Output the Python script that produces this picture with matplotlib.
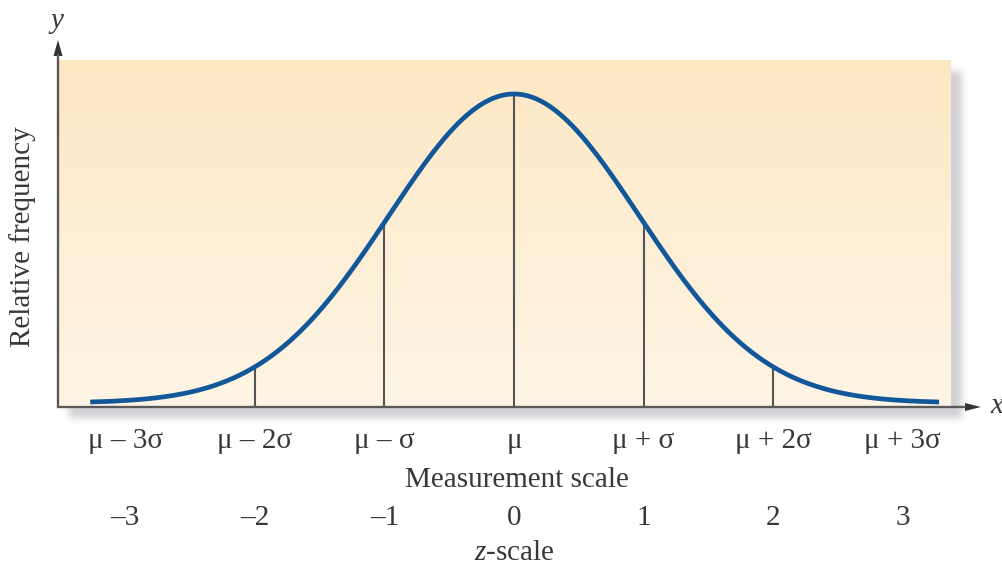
import numpy as np
import matplotlib
matplotlib.use('Agg')
import matplotlib.pyplot as plt
from matplotlib.transforms import blended_transform_factory
from matplotlib.patches import Polygon

# ---------------- data ----------------
z_ticks = [-3, -2, -1, 0, 1, 2, 3]
measurement_labels = ['μ – 3σ', 'μ – 2σ', 'μ – σ', 'μ', 'μ + σ', 'μ + 2σ', 'μ + 3σ']
z_labels = ['–3', '–2', '–1', '0', '1', '2', '3']
guide_z = [-2, -1, 0, 1, 2]
curve_mu = 0.0
curve_sigma = 0.965
curve_range = (-3.27, 3.28)
curve_base = 0.013

# ---------------- figure ----------------
W, H = 1003, 566
plt.rcParams['font.family'] = ['Liberation Serif', 'DejaVu Serif']
plt.rcParams['mathtext.fontset'] = 'custom'
plt.rcParams['mathtext.rm'] = 'Liberation Serif'
plt.rcParams['mathtext.it'] = 'Liberation Serif:italic'
fig = plt.figure(figsize=(W / 100, H / 100), dpi=100)
fig.patch.set_facecolor('white')

TXT = '#383838'
AX = '#5a5a5a'
FS = 21

# pixel layout of plot panel
L, R, T, B = 58, 951, 60, 407
px_per_z = 129.6
z0_px = 514
xlim = ((L - z0_px) / px_per_z, (R - z0_px) / px_per_z)
peak_px = 309.0
ylim = (0, (B - T) / peak_px)

# shadow layer (full figure, pixel coords)
sh = fig.add_axes([0, 0, 1, 1], zorder=0)
sh.set_xlim(0, W); sh.set_ylim(H, 0); sh.axis('off')
mask = np.zeros((H, W))
ox, oy = 11, 11
mask[T + oy:B + oy, L + ox:R + ox] = 1.0
def box(a, r, axis):
    c = np.cumsum(np.pad(a, [(r + 1, r) if i == axis else (0, 0) for i in range(2)], mode='edge'), axis=axis)
    if axis == 0:
        return (c[2 * r + 1:] - c[:-2 * r - 1]) / (2 * r + 1)
    return (c[:, 2 * r + 1:] - c[:, :-2 * r - 1]) / (2 * r + 1)
for _ in range(3):
    mask = box(mask, 3, 0)
    mask = box(mask, 3, 1)
rgba = np.zeros((H, W, 4))
rgba[..., 0] = 0.45; rgba[..., 1] = 0.45; rgba[..., 2] = 0.50
rgba[..., 3] = mask * 0.32
sh.imshow(rgba, extent=[0, W, H, 0], interpolation='bilinear', aspect='auto')

# main axes
ax = fig.add_axes([L / W, 1 - B / H, (R - L) / W, (B - T) / H], zorder=1)
ax.set_xlim(*xlim); ax.set_ylim(*ylim)
ax.axis('off')

top_c = np.array([253, 232, 196]) / 255
bot_c = np.array([254, 245, 229]) / 255
t = np.linspace(0, 1, 256)[:, None]
grad = top_c[None, :] * (1 - t) + bot_c[None, :] * t
grad = np.repeat(grad[:, None, :], 2, axis=1)
ax.imshow(grad, extent=[xlim[0], xlim[1], ylim[0], ylim[1]], origin='upper',
          aspect='auto', zorder=0, interpolation='bilinear')

z = np.linspace(curve_range[0], curve_range[1], 600)
def curve(v):
    return curve_base + np.exp(-0.5 * ((np.asarray(v) - curve_mu) / curve_sigma) ** 2)
ax.vlines(guide_z, 0, curve(guide_z), colors='#555555', lw=1.5, zorder=2)
ax.plot(z, curve(z), color='#12579a', lw=3.4, solid_capstyle='butt', zorder=3)

# axes arrows (pixel overlay)
ov = fig.add_axes([0, 0, 1, 1], zorder=2)
ov.set_xlim(0, W); ov.set_ylim(H, 0); ov.axis('off')
ov.plot([L, L], [B + 1, 54], color=AX, lw=1.7, solid_capstyle='butt')
ov.plot([L - 1, 966], [B, B], color=AX, lw=1.7, solid_capstyle='butt')
ov.add_patch(Polygon([[L, 40], [L - 4.5, 56], [L + 4.5, 56]], closed=True, color='#333333', lw=0))
ov.add_patch(Polygon([[981, B], [965, B - 4], [965, B + 4]], closed=True, color='#333333', lw=0))

# text
bt = blended_transform_factory(ax.transData, fig.transFigure)
for zt, lab in zip(z_ticks, measurement_labels):
    fig.text(zt, 1 - 448 / H, lab, transform=bt, ha='center', va='baseline',
             fontsize=FS, color=TXT)
for zt, lab in zip(z_ticks, z_labels):
    fig.text(zt, 1 - 525 / H, lab, transform=bt, ha='center', va='baseline',
             fontsize=FS, color=TXT)
fig.text(0.02, 1 - 487 / H, 'Measurement scale', transform=bt, ha='center',
         va='baseline', fontsize=FS, color=TXT)
fig.text(0.0, 1 - 560 / H, r'$z$-scale', transform=bt, ha='center',
         va='baseline', fontsize=FS, color=TXT)
fig.text(23 / W, 1 - 237 / H, 'Relative frequency', rotation=90, ha='center',
         va='center', fontsize=FS, color=TXT)
fig.text(57 / W, 1 - 28 / H, 'y', style='italic', ha='center', va='baseline',
         fontsize=FS, color=TXT)
fig.text(990 / W, 1 - 413 / H, 'x', style='italic', ha='left', va='baseline',
         fontsize=FS, color=TXT)

fig.savefig('out.png', dpi=100, facecolor='white')
